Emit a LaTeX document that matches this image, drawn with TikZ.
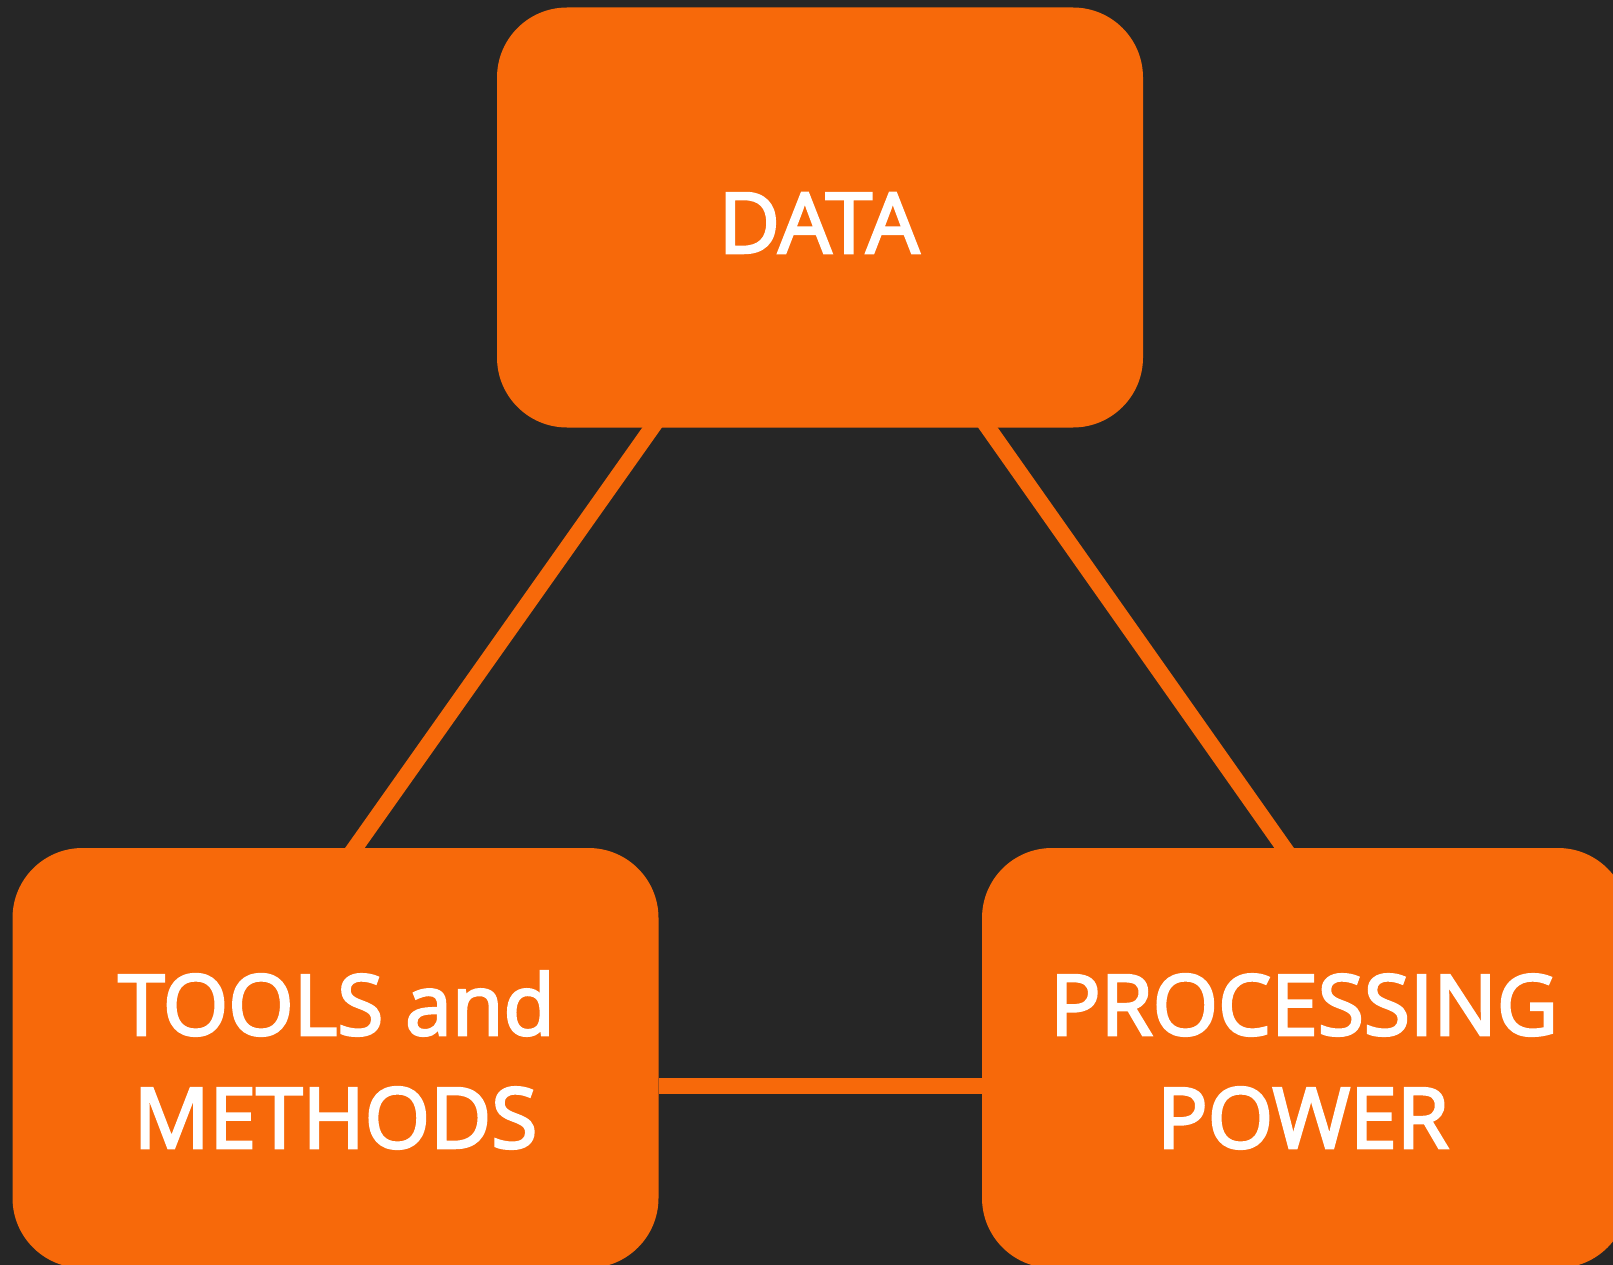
\documentclass[tikz,border=0pt]{standalone}
\usepackage{fontspec}
\setmainfont{Open Sans}
\newfontfamily\semib{Open Sans}[FakeBold=3]
\definecolor{bg}{HTML}{262626}
\definecolor{org}{HTML}{F7690A}
\tikzset{
  box/.style={fill=org, rounded corners=70pt, minimum width=646pt, minimum height=420pt, inner sep=0pt, draw=none},
  lbl/.style={text=white, inner sep=0pt, anchor=base, font=\semib\fontsize{84}{100}\selectfont},
  link/.style={draw=org, line width=16pt, shorten <=-12pt, shorten >=-12pt}
}
\begin{document}
\begin{tikzpicture}[x=1pt,y=-1pt]
\useasboundingbox (0,0) rectangle (1613,1265);
\fill[bg] (0,0) rectangle (1613,1265);
\clip (0,0) rectangle (1613,1265);
\node[box] (data) at (820,217.5) {};
\node[box] (tools) at (335.5,1058) {};
\node[box] (proc) at (1305,1058) {};
\draw[link] ([xshift=-168pt]data.south) -- ([xshift=19.5pt]tools.north);
\draw[link] ([xshift=168pt]data.south) -- ([xshift=-21pt]proc.north);
\draw[draw=org, line width=16pt] ([yshift=-28pt]tools.east) -- ([yshift=-28pt]proc.west);
\node[lbl] (datal) at (819,253) {DATA};
\node[lbl] (toolsa) at (336.5,1035) {TOOLS and};
\node[lbl] (toolsb) at (335.5,1148) {METHODS};
\node[lbl] (proca) at (1304,1035) {PROCESSING};
\node[lbl] (procb) at (1303,1148) {POWER};
\end{tikzpicture}
\end{document}
